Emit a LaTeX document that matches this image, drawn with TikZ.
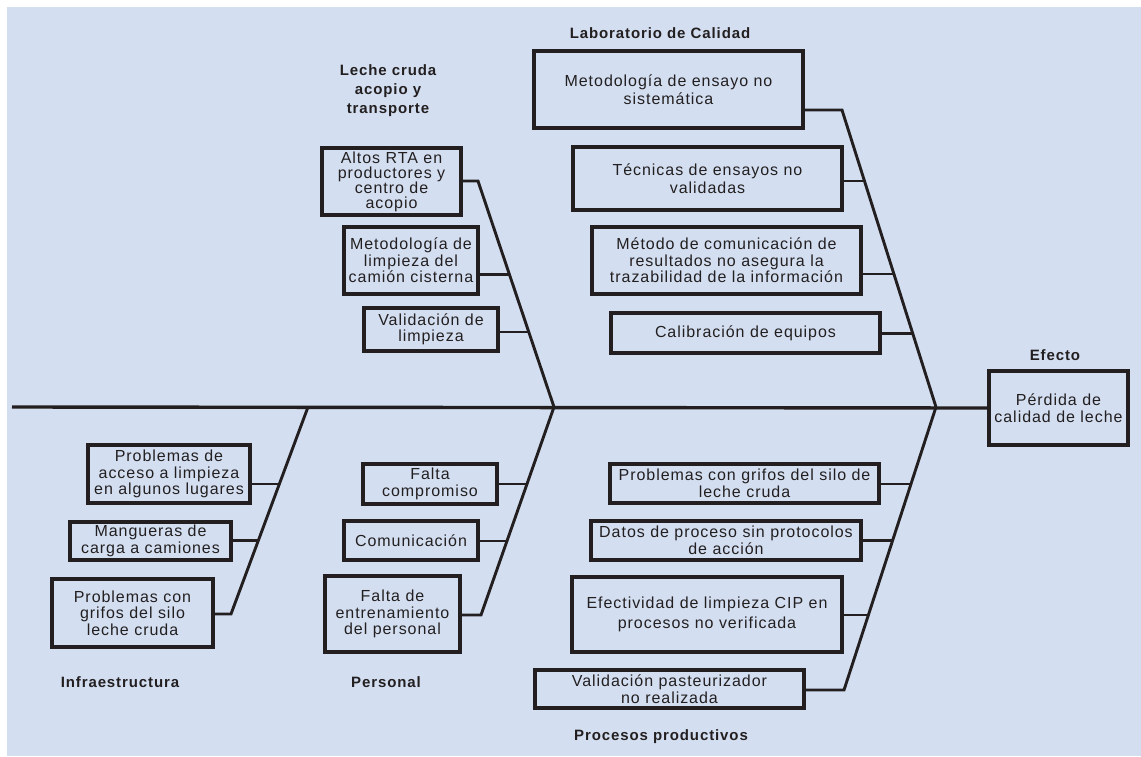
\documentclass[tikz,border=0pt]{standalone}
\usepackage{fontspec}
\setmainfont{Liberation Sans}[LetterSpace=6]
\usetikzlibrary{calc}
\definecolor{bg}{RGB}{211,223,241}
\definecolor{ink}{RGB}{35,31,32}
\begin{document}
\begin{tikzpicture}[x=1pt,y=-1pt,
  box/.style={draw=ink, line width=3.2pt, fill=bg, align=center, inner sep=1pt,
    font=\fontsize{16}{16.5}\selectfont, text=ink},
  lbl/.style={font=\bfseries\fontsize{15}{19}\selectfont, align=center, text=ink},
  bone/.style={draw=ink, line width=2.9pt, line join=miter},
  spine/.style={draw=ink, line width=3.4pt}]
\useasboundingbox (0,0) rectangle (1141,756);
\fill[white] (0,0) rectangle (1141,756);
\fill[bg] (7,7) rectangle (1141,756);

% junctions and rib ends
\coordinate (spstart) at (12,407);
\coordinate (jI) at (308,407);
\coordinate (jL) at (554,407);
\coordinate (jR) at (936,407);
\coordinate (labtop) at (842,110);
\coordinate (ctop) at (478,181);
\coordinate (ibot) at (231,614);
\coordinate (pbot) at (481,615);
\coordinate (rbot) at (844,690);

% Laboratorio de Calidad
\node[box, minimum width=269pt, minimum height=77pt] (L1) at (668.5,89.5) {Metodología de ensayo no\\[1.5pt]sistemática};
\node[box, minimum width=269pt, minimum height=63pt] (L2) at (707.5,178.5) {Técnicas de ensayos no\\[1.5pt]validadas};
\node[box, minimum width=269pt, minimum height=67pt] (L3) at (726.5,260.5) {Método de comunicación de\\resultados no asegura la\\trazabilidad de la información};
\node[box, minimum width=269pt, minimum height=40pt] (L4) at (745.5,333) {Calibración de equipos};

% Leche cruda
\node[box, minimum width=139pt, minimum height=67pt, font=\fontsize{16}{15}\selectfont] (C1) at (391.5,181.5) {Altos RTA en\\productores y\\centro de\\acopio};
\node[box, minimum width=134pt, minimum height=67pt] (C2) at (411,260.5) {Metodología de\\limpieza del\\camión cisterna};
\node[box, minimum width=134pt, minimum height=43pt] (C3) at (431,329.5) {Validación de\\limpieza};

% Infraestructura
\node[box, minimum width=162pt, minimum height=58pt] (I1) at (169,474) {Problemas de\\acceso a limpieza\\en algunos lugares};
\node[box, minimum width=161pt, minimum height=38pt] (I2) at (150.5,541) {Mangueras de\\carga a camiones};
\node[box, minimum width=161pt, minimum height=68pt] (I3) at (132.5,613) {Problemas con\\grifos del silo\\leche cruda};

% Personal
\node[box, minimum width=134pt, minimum height=40pt] (P1) at (430,484) {Falta\\compromiso};
\node[box, minimum width=134pt, minimum height=39pt] (P2) at (411,540.5) {Comunicación};
\node[box, minimum width=135pt, minimum height=76pt] (P3) at (392.5,614) {Falta de\\entrenamiento\\del personal};

% Procesos productivos
\node[box, minimum width=269pt, minimum height=39pt] (R1) at (744.5,483.5) {Problemas con grifos del silo de\\leche cruda};
\node[box, minimum width=270pt, minimum height=39pt] (R2) at (726,540.5) {Datos de proceso sin protocolos\\de acción};
\node[box, minimum width=270pt, minimum height=75pt] (R3) at (707,614.5) {Efectividad de limpieza CIP en\\[3pt]procesos no verificada};
\node[box, minimum width=269pt, minimum height=38pt] (R4) at (669.5,689) {Validación pasteurizador\\no realizada};

% Efecto
\node[box, minimum width=139pt, minimum height=74pt] (E) at (1058.5,408) {Pérdida de\\[1pt]calidad de leche};

% labels
\node[lbl] (tLab) at (660,33) {Laboratorio de Calidad};
\node[lbl] (tLeche) at (388,91) {Leche cruda\\acopio y\\transporte};
\node[lbl] (tEf) at (1055,355) {Efecto};
\node[lbl] (tInf) at (120,682) {Infraestructura};
\node[lbl] (tPer) at (386,682) {Personal};
\node[lbl] (tPro) at (661,737) {Procesos productivos};

% spine
\draw[spine] (spstart) -- (E.west);

% ribs
\draw[bone] (L1.east |- labtop) -- (labtop) -- (jR);
\draw[bone] (C1.east |- ctop) -- (ctop) -- (jL);
\draw[bone] (jI) -- (ibot) -- (I3.east |- ibot);
\draw[bone] (jL) -- (pbot) -- (P3.east |- pbot);
\draw[bone] (jR) -- (rbot) -- (R4.east |- rbot);

% rib attachment points
\coordinate (aL2) at ($(labtop)!0.239!(jR)$);
\coordinate (aL3) at ($(labtop)!0.552!(jR)$);
\coordinate (aL4) at ($(labtop)!0.751!(jR)$);
\coordinate (aC2) at ($(ctop)!0.412!(jL)$);
\coordinate (aC3) at ($(ctop)!0.668!(jL)$);
\coordinate (aI1) at ($(jI)!0.372!(ibot)$);
\coordinate (aI2) at ($(jI)!0.647!(ibot)$);
\coordinate (aP1) at ($(jL)!0.370!(pbot)$);
\coordinate (aP2) at ($(jL)!0.644!(pbot)$);
\coordinate (aR1) at ($(jR)!0.272!(rbot)$);
\coordinate (aR2) at ($(jR)!0.473!(rbot)$);
\coordinate (aR3) at ($(jR)!0.735!(rbot)$);

\draw[bone] (L2.east |- aL2) -- (aL2);
\draw[bone] (L3.east |- aL3) -- (aL3);
\draw[bone] (L4.east |- aL4) -- (aL4);
\draw[bone] (C2.east |- aC2) -- (aC2);
\draw[bone] (C3.east |- aC3) -- (aC3);
\draw[bone] (I1.east |- aI1) -- (aI1);
\draw[bone] (I2.east |- aI2) -- (aI2);
\draw[bone] (P1.east |- aP1) -- (aP1);
\draw[bone] (P2.east |- aP2) -- (aP2);
\draw[bone] (R1.east |- aR1) -- (aR1);
\draw[bone] (R2.east |- aR2) -- (aR2);
\draw[bone] (R3.east |- aR3) -- (aR3);
\end{tikzpicture}
\end{document}
